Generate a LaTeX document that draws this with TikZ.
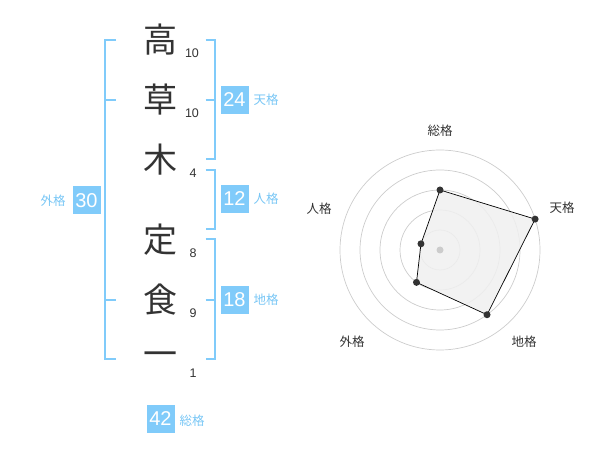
\documentclass[tikz,border=0pt]{standalone}
\usepackage{fontspec}
\setmainfont{Liberation Sans}
\newfontfamily\cjk{Noto Sans CJK JP}
\definecolor{kblue}{RGB}{128,203,250}
\definecolor{klabel}{RGB}{120,198,245}
\definecolor{kdark}{RGB}{51,51,51}
\definecolor{kring}{RGB}{204,204,204}
\definecolor{kfill}{RGB}{240,240,240}
\tikzset{
  bigchar/.style={inner sep=0pt, text=kdark, font=\cjk\fontsize{34}{34}\selectfont},
  strokenum/.style={inner sep=0pt, text=kdark, font=\fontsize{12.5}{12.5}\selectfont},
  scorebox/.style={fill=kblue, text=white, inner sep=0pt, minimum width=28pt, minimum height=28pt, font=\fontsize{20}{20}\selectfont},
  scorelabel/.style={inner sep=0pt, text=klabel, font=\cjk\fontsize{12.5}{12.5}\selectfont},
  bracketline/.style={draw=kblue, line width=2pt},
  ring/.style={draw=kring, line width=0.7pt},
  axislabel/.style={inner sep=0pt, text=kdark, font=\cjk\fontsize{12.5}{12.5}\selectfont},
  datadot/.style={circle, fill=kdark, inner sep=0pt, minimum size=7pt},
}
\begin{document}
\begin{tikzpicture}[x=1pt,y=-1pt]
\useasboundingbox (0,0) rectangle (600,470);
% characters
\node[bigchar] (c1) at (160,40) {高};
\node[bigchar] (c2) at (160,100) {草};
\node[bigchar] (c3) at (160,160) {木};
\node[bigchar] (c4) at (160,240) {定};
\node[bigchar] (c5) at (160,300) {食};
\node[bigchar] (c6) at (160,359) {一};
% stroke numbers
\node[strokenum] (n1) at (192,53) {10};
\node[strokenum] (n2) at (192,113) {10};
\node[strokenum] (n3) at (193,173) {4};
\node[strokenum] (n4) at (193,253) {8};
\node[strokenum] (n5) at (193,313) {9};
\node[strokenum] (n6) at (193,373) {1};
% brackets
\draw[bracketline] (116,40) -- (105,40) -- (105,359) -- (116,359);
\draw[bracketline] (105,100) -- (116,100);
\draw[bracketline] (105,300) -- (116,300);
\draw[bracketline] (205.5,40) -- (214.5,40) -- (214.5,159) -- (205.5,159);
\draw[bracketline] (205.5,100) -- (214.5,100);
\draw[bracketline] (205.5,170) -- (214.5,170) -- (214.5,229) -- (205.5,229);
\draw[bracketline] (205.5,239) -- (214.5,239) -- (214.5,359) -- (205.5,359);
\draw[bracketline] (205.5,300) -- (214.5,300);
% score boxes
\node[scorebox] (ten) at (234.5,100) {24};
\node[scorelabel] (tenl) at (266,100) {天格};
\node[scorebox] (jin) at (234.5,199) {12};
\node[scorelabel] (jinl) at (266,199) {人格};
\node[scorebox] (chi) at (234.5,300) {18};
\node[scorelabel] (chil) at (266,300) {地格};
\node[scorebox] (gai) at (86.5,200.5) {30};
\node[scorelabel] (gail) at (53,201) {外格};
\node[scorebox] (sou) at (160.5,419) {42};
\node[scorelabel] (soul) at (192,421) {総格};
% radar
\begin{scope}[shift={(440,250)}]
  \foreach \r in {20,40,60,80,100} \draw[ring] (0,0) circle[radius=\r];
  \coordinate (ps) at (-90:60);
  \coordinate (pt) at (-18:100);
  \coordinate (pc) at (54:80);
  \coordinate (pg) at (126:40);
  \coordinate (pj) at (198:20);
  \fill[kfill, opacity=0.85] (ps) -- (pt) -- (pc) -- (pg) -- (pj) -- cycle;
  \draw[black, line width=0.7pt] (ps) -- (pt) -- (pc) -- (pg) -- (pj) -- cycle;
  \node[circle, fill=kring, inner sep=0pt, minimum size=7pt] (ctr) at (0,0) {};
  \node[datadot] (ds) at (ps) {};
  \node[datadot] (dt) at (pt) {};
  \node[datadot] (dc) at (pc) {};
  \node[datadot] (dg) at (pg) {};
  \node[datadot] (dj) at (pj) {};
\end{scope}
\node[axislabel] (ax1) at (440,131) {総格};
\node[axislabel] (ax2) at (562,208) {天格};
\node[axislabel] (ax3) at (524,342) {地格};
\node[axislabel] (ax4) at (352,342) {外格};
\node[axislabel] (ax5) at (319,209) {人格};
\end{tikzpicture}
\end{document}
